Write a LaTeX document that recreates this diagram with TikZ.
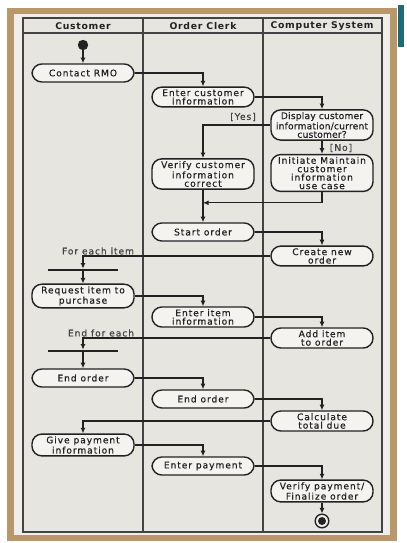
\documentclass[tikz,border=0pt]{standalone}
\usepackage{fontspec}
\usepackage{xcolor}
\usepackage{tikz}
\usetikzlibrary{arrows.meta, positioning, calc}
\newfontfamily\lanefont{DejaVu Sans}[LetterSpace=10, FakeBold=0.5]
\newfontfamily\tightfont{DejaVu Sans}[LetterSpace=2, FakeBold=0.5]
\newfontfamily\headfont{DejaVu Sans}[LetterSpace=8]
\definecolor{FrameTan}{HTML}{B8976A}
\definecolor{PanelCream}{HTML}{EFEEE8}
\definecolor{LaneGrey}{HTML}{E7E5DF}
\definecolor{NodeFill}{HTML}{F4F3EF}
\definecolor{InkDark}{HTML}{222222}
\definecolor{SlideTeal}{HTML}{1E6B78}

\begin{document}
\begin{tikzpicture}[
    x=0.025cm, y=-0.025cm,
    activity/.style={draw=InkDark, fill=NodeFill, rounded corners=7pt, line width=1pt, minimum width=2.55cm, minimum height=0.45cm, inner xsep=2pt, inner ysep=1.6pt, align=center, font=\lanefont\fontsize{6.5}{6}\selectfont, text=InkDark},
    lanehead/.style={font=\headfont\bfseries\fontsize{6.6}{7}\selectfont, text=InkDark},
    guard/.style={font=\lanefont\fontsize{6.5}{7}\selectfont, text=InkDark!85, inner sep=1pt},
    syncbar/.style={fill=InkDark, minimum width=1.75cm, minimum height=1.5pt, inner sep=0pt},
    flow/.style={-{Latex[length=4pt,width=3.6pt]}, line width=0.8pt, draw=InkDark}
]
\useasboundingbox (0,0) rectangle (406,543);

% Slide frame and swimlanes
\fill[white] (0,0) rectangle (406,543);
\fill[SlideTeal] (398,5) rectangle (404,47);
\fill[FrameTan] (7,8) rectangle (397,541);
\fill[PanelCream] (14,14) rectangle (390,535);
\fill[LaneGrey] (23,18) rectangle (382,532);
\draw[line width=0.8pt, InkDark!85] (23,18) rectangle (382,532);
\draw[line width=0.8pt, InkDark!85] (23,33) -- (382,33);
\draw[line width=0.8pt, InkDark!85] (143,18) -- (143,532);
\draw[line width=0.8pt, InkDark!85] (263,18) -- (263,532);

% Lane headers
\node[lanehead] (H1) at (83,26) {Customer};
\node[lanehead] (H2) at (203,26) {Order Clerk};
\node[lanehead] (H3) at (322,26) {Computer System};

% Customer lane
\node[circle, fill=InkDark, minimum size=0.26cm, inner sep=0pt] (Start) at (83,45) {};
\node[activity] (C1) at (83,73) {Contact RMO};
\node[syncbar] (B1) at (83,270) {};
\node[activity] (C2) at (83,296) {Request item to\\purchase};
\node[syncbar] (B2) at (83,351) {};
\node[activity] (C3) at (83,378) {End order};
\node[activity] (C4) at (83,445) {Give payment\\information};

% Order clerk lane
\node[activity] (O1) at (203,97) {Enter customer\\information};
\node[activity] (O2) at (203,174) {Verify customer\\information\\correct};
\node[activity] (O3) at (203,232) {Start order};
\node[activity] (O4) at (203,317) {Enter item\\information};
\node[activity] (O5) at (203,399) {End order};
\node[activity] (O6) at (203,466) {Enter payment};

% Computer system lane
\node[activity, font=\tightfont\fontsize{6.5}{6}\selectfont] (S1) at (322,125) {Display customer\\information/current\\customer?};
\node[activity] (S2) at (322,173) {Initiate Maintain\\customer\\information\\use case};
\node[activity] (S3) at (322,256) {Create new\\order};
\node[activity] (S4) at (322,338) {Add item\\to order};
\node[activity] (S5) at (322,421) {Calculate\\total due};
\node[activity] (S6) at (322,491) {Verify payment/\\Finalize order};
\node[circle, draw=InkDark, line width=1pt, fill=NodeFill, minimum size=0.34cm, inner sep=0pt] (End) at (322,521) {};
\node[circle, fill=InkDark, minimum size=0.2cm, inner sep=0pt] (EndDot) at (End) {};

% Guards and loop labels
\node[guard] (Yes) at (243,117) {[Yes]};
\node[guard] (No) at (341,148) {[No]};
\node[guard] (ForEach) at (98,251) {For each item};
\node[guard] (EndEach) at (101,333) {End for each};

% Control flow
\draw[flow] (Start) -- (C1);
\draw[flow] (C1.east) -| (O1.north);
\draw[flow] (O1.east) -| (S1.north);
\draw[flow] (S1.west) -| (O2.north);
\draw[flow] (S1) -- (S2);
\draw[flow] (S2.south) |- ($(O2.south)!0.4!(O3.north)$);
\draw[flow] (O2) -- (O3);
\draw[flow] (O3.east) -| (S3.north);
\draw[flow] (S3.west) -| (B1.north);
\draw[flow] (B1) -- (C2);
\draw[flow] (C2.east) -| (O4.north);
\draw[flow] (O4.east) -| (S4.north);
\draw[flow] (S4.west) -| (B2.north);
\draw[flow] (B2) -- (C3);
\draw[flow] (C3.east) -| (O5.north);
\draw[flow] (O5.east) -| (S5.north);
\draw[flow] (S5.west) -| (C4.north);
\draw[flow] (C4.east) -| (O6.north);
\draw[flow] (O6.east) -| (S6.north);
\draw[flow] (S6) -- (End);

\end{tikzpicture}
\end{document}
